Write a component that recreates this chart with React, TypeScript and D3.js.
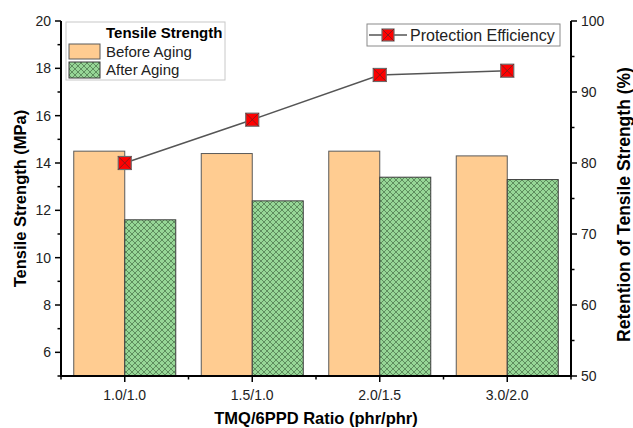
import React from "react";
import * as d3 from "d3";

// data
const categories = ["1.0/1.0", "1.5/1.0", "2.0/1.5", "3.0/2.0"];
const beforeAging = [14.5, 14.4, 14.5, 14.3];
const afterAging = [11.6, 12.4, 13.4, 13.3];
const protection = [80.0, 86.1, 92.4, 93.0];
const leftTicks = [6, 8, 10, 12, 14, 16, 18, 20];
const leftMinor = [5, 7, 9, 11, 13, 15, 17, 19];
const rightTicks = [50, 60, 70, 80, 90, 100];
const rightMinor = [55, 65, 75, 85, 95];

const W = 633;
const H = 428;
const margin = { left: 61, right: 62, top: 21, bottom: 52 };
const font = "Liberation Sans, Arial, sans-serif";

const App = () => {
  const x0 = margin.left;
  const x1 = W - margin.right;
  const yB = H - margin.bottom;

  const x = d3.scaleBand().domain(categories).range([x0, x1]).padding(0);
  const yL = d3.scaleLinear().domain([5, 20]).range([yB, margin.top]);
  const yR = d3.scaleLinear().domain([50, 100]).range([yB, margin.top]);
  const barW = x.bandwidth() * 0.4;
  const cx = (c) => x(c) + x.bandwidth() / 2;

  const line = d3
    .line()
    .x((d, i) => cx(categories[i]))
    .y((d) => yR(d));

  const marker = (mx, my, s, key) => (
    <g key={key} transform={`translate(${mx},${my})`}>
      <rect x={-s / 2} y={-s / 2} width={s} height={s} fill="#ff0000" stroke="#6b6b6b" strokeWidth={1.2} />
      <path d={`M${-s / 2},${-s / 2}L${s / 2},${s / 2}M${s / 2},${-s / 2}L${-s / 2},${s / 2}`} stroke="#8a1a1a" strokeWidth={1} />
    </g>
  );

  const bandEdges = [...categories.map((c) => x(c)), x1];
  const midY = (margin.top + yB) / 2;

  return (
    <svg width={W} height={H} style={{ position: "absolute", left: 0, top: 0, background: "#fff" }} fontFamily={font}>
      <defs>
        <pattern id="hatch" patternUnits="userSpaceOnUse" width={6} height={6}>
          <rect width={6} height={6} fill="#96d696" />
          <path d="M0,0L6,6M6,0L0,6M-1,5L1,7M5,-1L7,1M-1,1L1,-1M5,7L7,5" stroke="#4f7a4f" strokeWidth={0.8} />
        </pattern>
      </defs>

      {/* bars */}
      {categories.map((c, i) => (
        <g key={c}>
          <rect x={cx(c) - barW} y={yL(beforeAging[i])} width={barW} height={yB - yL(beforeAging[i])} fill="#ffcc91" stroke="#5a5a5a" strokeWidth={1} />
          <rect x={cx(c)} y={yL(afterAging[i])} width={barW} height={yB - yL(afterAging[i])} fill="url(#hatch)" stroke="#3d3d3d" strokeWidth={1} />
        </g>
      ))}

      {/* protection efficiency line */}
      <path d={line(protection)} fill="none" stroke="#555" strokeWidth={1.5} />
      {protection.map((v, i) => marker(cx(categories[i]), yR(v), 13, "m" + i))}

      {/* axes */}
      <g stroke="#000" strokeWidth={2} fill="none">
        <line x1={x0} x2={x1} y1={yB} y2={yB} />
        <line x1={x0} x2={x0} y1={margin.top} y2={yB + 1} />
        <line x1={x1} x2={x1} y1={margin.top} y2={yB + 1} />
      </g>
      <g stroke="#000" strokeWidth={1.5}>
        {categories.map((c) => (
          <line key={c} x1={cx(c)} x2={cx(c)} y1={yB} y2={yB + 6} />
        ))}
        {bandEdges.map((e, i) => (
          <line key={"e" + i} x1={e} x2={e} y1={yB} y2={yB + 3.5} />
        ))}
        {leftTicks.map((t) => (
          <line key={"l" + t} x1={x0} x2={x0 - 6} y1={yL(t)} y2={yL(t)} />
        ))}
        {leftMinor.map((t) => (
          <line key={"lm" + t} x1={x0} x2={x0 - 3.5} y1={yL(t)} y2={yL(t)} />
        ))}
        {rightTicks.map((t) => (
          <line key={"r" + t} x1={x1} x2={x1 + 6} y1={yR(t)} y2={yR(t)} />
        ))}
        {rightMinor.map((t) => (
          <line key={"rm" + t} x1={x1} x2={x1 + 3.5} y1={yR(t)} y2={yR(t)} />
        ))}
      </g>

      {/* tick labels */}
      <g fontSize={14} fill="#222">
        {categories.map((c) => (
          <text key={c} x={cx(c)} y={yB + 24} textAnchor="middle">{c}</text>
        ))}
        {leftTicks.map((t) => (
          <text key={t} x={x0 - 10} y={yL(t)} dy="0.35em" textAnchor="end">{t}</text>
        ))}
        {rightTicks.map((t) => (
          <text key={t} x={x1 + 10} y={yR(t)} dy="0.35em">{t}</text>
        ))}
      </g>

      {/* axis titles */}
      <g fontWeight="bold" fill="#000">
        <text x={(x0 + x1) / 2} y={H - 4} textAnchor="middle" fontSize={16.5}>TMQ/6PPD Ratio (phr/phr)</text>
        <text transform={`translate(26,${midY}) rotate(-90)`} textAnchor="middle" fontSize={16.5}>Tensile Strength (MPa)</text>
        <text transform={`translate(630,${midY + 6}) rotate(-90)`} textAnchor="middle" fontSize={17.5}>Retention of Tensile Strength (%)</text>
      </g>

      {/* bar legend */}
      <g>
        <rect x={66} y={22} width={159} height={58} fill="#fff" stroke="#c8c8c8" strokeWidth={1} />
        <text x={106} y={38} fontSize={15} fontWeight="bold">Tensile Strength</text>
        <rect x={69} y={44} width={31} height={15} fill="#ffcc91" stroke="#5a5a5a" />
        <text x={106} y={57} fontSize={15} fill="#222">Before Aging</text>
        <rect x={69} y={62} width={31} height={16} fill="url(#hatch)" stroke="#3d3d3d" />
        <text x={106} y={75} fontSize={15} fill="#222">After Aging</text>
      </g>

      {/* line legend */}
      <g>
        <rect x={367} y={24} width={193} height={22} fill="#fff" stroke="#8a8a8a" strokeWidth={1} />
        <line x1={369} x2={407} y1={35} y2={35} stroke="#555" strokeWidth={1.5} />
        {marker(388, 35, 12, "lm")}
        <text x={410} y={41} fontSize={16} fill="#222">Protection Efficiency</text>
      </g>
    </svg>
  );
};

export default App;
